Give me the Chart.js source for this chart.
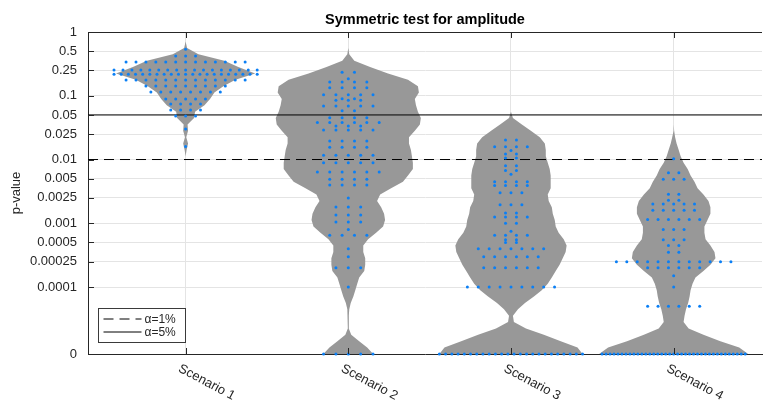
<!DOCTYPE html>
<html>
<head>
<meta charset="utf-8">
<script src="https://cdn.jsdelivr.net/npm/chart.js@4.4.1/dist/chart.umd.min.js"></script>
<style>
  html, body { margin: 0; padding: 0; background: #fff; overflow: hidden; }
  #wrap { width: 766px; height: 405px; }
</style>
</head>
<body>
<div id="wrap"><canvas id="violinChart"></canvas></div>
<script>
// datos del gráfico
const scenarios = ['Scenario 1', 'Scenario 2', 'Scenario 3', 'Scenario 4'];
const yTickP = [1, 0.5, 0.25, 0.1, 0.05, 0.025, 0.01, 0.005, 0.0025, 0.001, 0.0005, 0.00025, 0.0001, 0];
const yTickLabels = ['1', '0.5', '0.25', '0.1', '0.05', '0.025', '0.01', '0.005', '0.0025', '0.001', '0.0005', '0.00025', '0.0001', '0'];
const zeroLevel = -5.05; // log10 donde se dibuja p = 0

const alphaP = [0.01, 0.05];
const alphaNames = ['\u03b1=1%', '\u03b1=5%'];

// niveles log10(p) de la densidad y semi-anchos del violín
const densityLevels = [
  -5.05, -4.95, -4.85, -4.75, -4.65, -4.55, -4.45, -4.35, -4.25, -4.15,
  -4.05, -3.95, -3.85, -3.75, -3.65, -3.55, -3.45, -3.35, -3.25, -3.15,
  -3.05, -2.95, -2.85, -2.75, -2.65, -2.55, -2.45, -2.35, -2.25, -2.15,
  -2.05, -1.95, -1.85, -1.75, -1.65, -1.55, -1.45, -1.35, -1.25, -1.15,
  -1.05, -0.95, -0.85, -0.75, -0.65, -0.55, -0.45, -0.35, -0.25, -0.15,
  -0.05
];
const densityS1 = [
  0, 0, 0, 0, 0, 0, 0, 0, 0, 0,
  0, 0, 0, 0, 0, 0, 0, 0, 0, 0,
  0, 0, 0, 0, 0, 0, 0, 0, 0, 0,
  0, 0, 0.006, 0.015, 0.004, 0.015, 0.012, 0.052, 0.058, 0.116,
  0.150, 0.177, 0.232, 0.306, 0.428, 0.324, 0.238, 0.079, 0.009, 0,
  0
];
const densityS2 = [
  0.153, 0.116, 0.067, 0.018, 0.003, 0.003, 0.003, 0.006, 0.015, 0.031,
  0.043, 0.055, 0.067, 0.098, 0.104, 0.104, 0.092, 0.092, 0.122, 0.171,
  0.214, 0.226, 0.220, 0.202, 0.177, 0.196, 0.263, 0.336, 0.367, 0.397,
  0.397, 0.391, 0.385, 0.373, 0.373, 0.409, 0.440, 0.446, 0.428, 0.416,
  0.409, 0.434, 0.428, 0.367, 0.244, 0.134, 0.037, 0.006, 0, 0,
  0
];
const densityS3 = [
  0.440, 0.409, 0.306, 0.202, 0.092, 0.018, 0.012, 0.043, 0.086, 0.141,
  0.189, 0.226, 0.251, 0.275, 0.299, 0.318, 0.336, 0.342, 0.324, 0.293,
  0.275, 0.269, 0.257, 0.251, 0.232, 0.226, 0.244, 0.244, 0.244, 0.238,
  0.226, 0.214, 0.214, 0.208, 0.177, 0.122, 0.067, 0.012, 0, 0,
  0, 0, 0, 0, 0, 0, 0, 0, 0, 0,
  0
];
const densityS4 = [
  0.458, 0.403, 0.287, 0.183, 0.092, 0.061, 0.067, 0.076, 0.089, 0.098,
  0.104, 0.116, 0.134, 0.183, 0.226, 0.257, 0.251, 0.226, 0.196, 0.189,
  0.189, 0.208, 0.226, 0.226, 0.214, 0.183, 0.147, 0.128, 0.104, 0.086,
  0.061, 0.043, 0.031, 0.018, 0.009, 0.003, 0, 0, 0, 0,
  0, 0, 0, 0, 0, 0, 0, 0, 0, 0,
  0
];

// p-valores observados y cuántas veces se repite cada uno
const pS1 = [0.535, 0.42, 0.338, 0.254, 0.217, 0.177, 0.142, 0.115, 0.089, 0.074, 0.060, 0.048, 0.030, 0.016];
const nS1 = [1, 3, 13, 17, 21, 13, 9, 8, 5, 4, 4, 3, 1, 1];
const pS2 = [0.233, 0.185, 0.164, 0.134, 0.104, 0.090, 0.085, 0.069, 0.058, 0.045,
             0.038, 0.0336, 0.029, 0.0195, 0.0156, 0.0117, 0.0089, 0.0064, 0.0049, 0.0040,
             0.0025, 0.0018, 0.00135, 0.00105, 0.0008, 0.00065, 0.0004, 0.0003, 0.0002, 0.0001, 0];
const nS2 = [2, 1, 4, 4, 5, 2, 3, 5, 2, 4,
             6, 3, 5, 4, 4, 5, 5, 6, 4, 4,
             1, 3, 3, 3, 1, 4, 1, 1, 3, 1, 5];
const pS3 = [0.0202, 0.0159, 0.0139, 0.0122, 0.0106, 0.0080, 0.0067, 0.0059, 0.0045, 0.0039,
             0.0030, 0.00195, 0.00145, 0.00125, 0.001, 0.00075, 0.00065, 0.00055, 0.0005, 0.0004,
             0.0003, 0.0002, 0.0001, 0];
const nS3 = [2, 4, 1, 2, 2, 2, 2, 1, 4, 4,
             3, 3, 2, 4, 2, 1, 4, 2, 2, 7,
             6, 6, 9, 24];
const pS4 = [0.0103, 0.0062, 0.0049, 0.00285, 0.0023, 0.0020, 0.0016, 0.00115, 0.0008, 0.00055,
             0.00045, 0.00035, 0.00025, 0.0002, 0.00015, 0.0001, 0.00005, 0];
const nS4 = [1, 2, 3, 2, 2, 5, 5, 6, 3, 3,
             2, 2, 12, 6, 1, 1, 6, 37];

// estilo
const xMin = 0.4, xMax = 4.543;
const violinGray = '#989898';
const dotBlue = '#0a7ff5';
const axisColor = '#262626';
const gridColor = '#e4e4e4';
const fontFamily = '"Liberation Sans", Arial, Helvetica, sans-serif';
const maxGap = [0.061, 0.076, 0.067, 0.064]; // separación máxima entre puntos repetidos
const rowHalfSpan = 0.44;

function toLog(p) {
  return p > 0 ? Math.log10(p) : zeroLevel;
}

// construir datasets
const densities = [densityS1, densityS2, densityS3, densityS4];
const pValues = [pS1, pS2, pS3, pS4];
const pCounts = [nS1, nS2, nS3, nS4];
const datasets = [];

pValues.forEach((ps, i) => {
  const pts = [];
  ps.forEach((p, r) => {
    const n = pCounts[i][r];
    const gap = n > 1 ? Math.min(maxGap[i], 2 * rowHalfSpan / (n - 1)) : 0;
    for (let j = 0; j < n; j++) {
      pts.push({ x: i + 1 + (j - (n - 1) / 2) * gap, y: toLog(p) });
    }
  });
  datasets.push({
    type: 'scatter',
    data: pts,
    pointRadius: 1.5,
    pointBackgroundColor: dotBlue,
    pointBorderWidth: 0,
    clip: false,
    order: 0
  });
});

alphaP.forEach((p, i) => {
  datasets.push({
    type: 'line',
    label: alphaNames[i],
    data: [{ x: xMin, y: Math.log10(p) }, { x: xMax, y: Math.log10(p) }],
    borderColor: '#000',
    borderWidth: 1,
    borderDash: i === 0 ? [10, 6] : [],
    pointRadius: 0,
    fill: false,
    isAlpha: true,
    order: 1
  });
});

densities.forEach((w, i) => {
  const c = i + 1;
  const right = densityLevels.map((y, k) => ({ x: c + w[k], y }));
  const left = densityLevels.map((y, k) => ({ x: c - w[k], y })).reverse();
  datasets.push({
    type: 'line',
    data: right.concat(left),
    borderColor: 'rgba(0,0,0,0)',
    borderWidth: 0,
    backgroundColor: violinGray,
    pointRadius: 0,
    fill: 'shape',
    order: 2
  });
});

// marco, marcas internas, etiquetas giradas y leyenda
const decor = {
  id: 'decor',
  afterDraw(chart) {
    const { ctx, chartArea: a, scales: { x, y } } = chart;
    ctx.save();
    ctx.strokeStyle = axisColor;
    ctx.lineWidth = 1;
    ctx.beginPath();
    const top = Math.round(a.top) + 0.5;
    ctx.moveTo(a.left, top);
    ctx.lineTo(a.right, top);
    y.ticks.forEach(t => {
      const py = Math.round(y.getPixelForValue(t.value)) + 0.5;
      ctx.moveTo(a.left, py);
      ctx.lineTo(a.left + 6, py);
    });
    x.ticks.forEach(t => {
      const px = Math.round(x.getPixelForValue(t.value)) + 0.5;
      ctx.moveTo(px, a.bottom);
      ctx.lineTo(px, a.bottom - 6);
      ctx.moveTo(px, a.top);
      ctx.lineTo(px, a.top + 6);
    });
    ctx.stroke();

    ctx.fillStyle = axisColor;
    ctx.font = '13px ' + fontFamily;
    ctx.textAlign = 'left';
    ctx.textBaseline = 'alphabetic';
    x.ticks.forEach((t, i) => {
      const px = x.getPixelForValue(t.value);
      ctx.save();
      ctx.translate(px - 8, a.bottom + 17);
      ctx.rotate(28 * Math.PI / 180);
      ctx.fillText(scenarios[i], 0, 0);
      ctx.restore();
    });

    // leyenda
    const lx = 98.5, ly = 308.5, lw = 87, lh = 34;
    ctx.fillStyle = '#fff';
    ctx.fillRect(lx, ly, lw, lh);
    ctx.strokeStyle = '#3a3a3a';
    ctx.strokeRect(lx, ly, lw, lh);
    const items = chart.data.datasets.filter(d => d.isAlpha);
    ctx.font = '12px ' + fontFamily;
    ctx.textBaseline = 'middle';
    items.forEach((d, i) => {
      const yy = ly + 10.5 + i * 13;
      ctx.strokeStyle = d.borderColor;
      ctx.setLineDash(d.borderDash);
      ctx.beginPath();
      ctx.moveTo(lx + 5, yy);
      ctx.lineTo(lx + 43, yy);
      ctx.stroke();
      ctx.setLineDash([]);
      ctx.fillStyle = axisColor;
      ctx.fillText(d.label, lx + 46, yy + 0.5);
    });
    ctx.restore();
  }
};

Chart.defaults.font.family = fontFamily;
Chart.defaults.font.size = 13;
Chart.defaults.color = axisColor;

new Chart(document.getElementById('violinChart'), {
  type: 'scatter',
  data: { datasets },
  options: {
    responsive: true,
    maintainAspectRatio: false,
    animation: false,
    events: [],
    layout: { padding: 0 },
    plugins: {
      legend: { display: false },
      tooltip: { enabled: false },
      title: {
        display: true,
        text: 'Symmetric test for amplitude',
        fullSize: false,
        color: '#000',
        font: { size: 14.5, weight: 'bold' },
        padding: { top: 11, bottom: 3.6 }
      }
    },
    scales: {
      x: {
        type: 'linear',
        min: xMin,
        max: xMax,
        afterBuildTicks: s => { s.ticks = scenarios.map((_, i) => ({ value: i + 1 })); },
        afterFit: s => { s.height = 51; },
        ticks: { display: false },
        grid: { color: gridColor, drawTicks: false },
        border: { display: true, color: axisColor, width: 1 }
      },
      y: {
        type: 'linear',
        min: zeroLevel,
        max: 0,
        afterBuildTicks: s => { s.ticks = yTickP.map(p => ({ value: toLog(p) })); },
        afterFit: s => { s.width = 88; },
        ticks: {
          autoSkip: false,
          padding: 11,
          color: axisColor,
          font: { size: 13 },
          callback: (v, i) => yTickLabels[i]
        },
        grid: { color: gridColor, drawTicks: false },
        border: { display: true, color: axisColor, width: 1 },
        title: {
          display: true,
          text: 'p-value',
          color: axisColor,
          font: { size: 13 },
          padding: { top: 9, bottom: 0 }
        }
      }
    }
  },
  plugins: [decor]
});
</script>
</body>
</html>
